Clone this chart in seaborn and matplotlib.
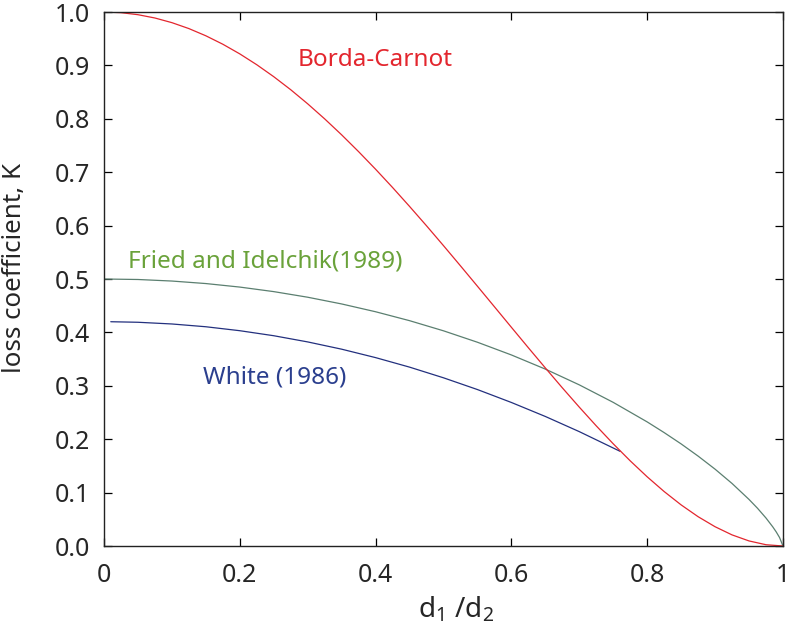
import matplotlib
matplotlib.use("Agg")
import matplotlib.pyplot as plt
import seaborn as sns
import pandas as pd

# Data
borda_x = [0.0, 0.025, 0.05, 0.075, 0.1, 0.125, 0.15, 0.175, 0.2, 0.225, 0.25, 0.275,
           0.3, 0.325, 0.35, 0.375, 0.4, 0.425, 0.45, 0.475, 0.5, 0.525, 0.55, 0.575,
           0.6, 0.625, 0.65, 0.675, 0.7, 0.725, 0.75, 0.775, 0.8, 0.825, 0.85, 0.875,
           0.9, 0.925, 0.95, 0.975, 1.0]
borda_y = [1.0, 0.9988, 0.995, 0.9888, 0.9801, 0.969, 0.9555, 0.9397, 0.9216, 0.9013,
           0.8789, 0.8545, 0.8281, 0.7999, 0.770, 0.7385, 0.7056, 0.6714, 0.636, 0.5997,
           0.5625, 0.5247, 0.4865, 0.4481, 0.4096, 0.3713, 0.3335, 0.2963, 0.2601,
           0.225, 0.1914, 0.1595, 0.1296, 0.102, 0.077, 0.0549, 0.0361, 0.0208, 0.0095,
           0.0024, 0.0]

fried_x = [0.0, 0.05, 0.1, 0.15, 0.2, 0.25, 0.3, 0.35, 0.4, 0.45, 0.5, 0.55, 0.6,
           0.65, 0.7, 0.75, 0.8, 0.825, 0.85, 0.875, 0.9, 0.925, 0.95, 0.9625, 0.975,
           0.985, 0.99, 0.995, 1.0]
fried_y = [0.5, 0.4991, 0.4962, 0.4915, 0.4849, 0.4764, 0.4659, 0.4533, 0.4387, 0.422,
           0.403, 0.3816, 0.3578, 0.3313, 0.3018, 0.269, 0.2324, 0.2124, 0.1912, 0.1684,
           0.1439, 0.1171, 0.0872, 0.0707, 0.0524, 0.0358, 0.0265, 0.0158, 0.0]

white_x = [0.01, 0.05, 0.1, 0.15, 0.2, 0.25, 0.3, 0.35, 0.4, 0.45, 0.5, 0.55, 0.6,
           0.65, 0.7, 0.76]
white_y = [0.42, 0.419, 0.4158, 0.4106, 0.4032, 0.3938, 0.3822, 0.3686, 0.3528, 0.335,
           0.315, 0.293, 0.2688, 0.2426, 0.2142, 0.1774]

x_ticks = [0, 0.2, 0.4, 0.6, 0.8, 1.0]
x_tick_labels = ["0", "0.2", "0.4", "0.6", "0.8", "1"]
y_ticks = [0.0, 0.1, 0.2, 0.3, 0.4, 0.5, 0.6, 0.7, 0.8, 0.9, 1.0]
y_tick_labels = ["0.0", "0.1", "0.2", "0.3", "0.4", "0.5", "0.6", "0.7", "0.8", "0.9", "1.0"]

sns.set_style("ticks")
plt.rcParams["font.family"] = ["Noto Sans", "DejaVu Sans"]
plt.rcParams["mathtext.fontset"] = "custom"
plt.rcParams["mathtext.rm"] = "Noto Sans"
plt.rcParams["mathtext.default"] = "regular"

fig = plt.figure(figsize=(7.92, 6.36), dpi=100)
ax = fig.add_axes([0.1313, 0.1415, 0.9886 - 0.1313, 0.9811 - 0.1415])

red = "#e3262e"
green_line = "#5b7f70"
navy = "#23307e"

sns.lineplot(data=pd.DataFrame({"x": fried_x, "y": fried_y}), x="x", y="y", ax=ax,
             color=green_line, linewidth=0.9, sort=False)
sns.lineplot(data=pd.DataFrame({"x": white_x, "y": white_y}), x="x", y="y", ax=ax,
             color=navy, linewidth=0.9, sort=False)
sns.lineplot(data=pd.DataFrame({"x": borda_x, "y": borda_y}), x="x", y="y", ax=ax,
             color=red, linewidth=0.9, sort=False)

ax.set_xlim(0, 1)
ax.set_ylim(0, 1)
ax.set_xticks(x_ticks)
ax.set_xticklabels(x_tick_labels)
ax.set_yticks(y_ticks)
ax.set_yticklabels(y_tick_labels)
ax.tick_params(direction="in", length=6, width=0.9, labelsize=18, color="black",
               top=True, right=True, pad=10)
ax.tick_params(axis="x", pad=12)
for s in ax.spines.values():
    s.set_visible(True)
    s.set_linewidth(1.0)
    s.set_color("#222222")

ax.set_xlabel("d$_1$ /d$_2$", fontsize=20)
ax.xaxis.set_label_coords(0.518, -0.0925)
ax.set_ylabel("loss coefficient, K", fontsize=18.7)
ax.yaxis.set_label_coords(-0.113, 0.52)

ax.text(0.40, 0.91, "Borda-Carnot", color=red, fontsize=17.5, ha="center", va="center")
ax.text(0.035, 0.533, "Fried and Idelchik(1989)", color="#6aa23a", fontsize=17.5,
        ha="left", va="center")
ax.text(0.146, 0.316, "White (1986)", color="#2b3f8e", fontsize=17.5, ha="left", va="center")

fig.savefig("out.png", dpi=100)
